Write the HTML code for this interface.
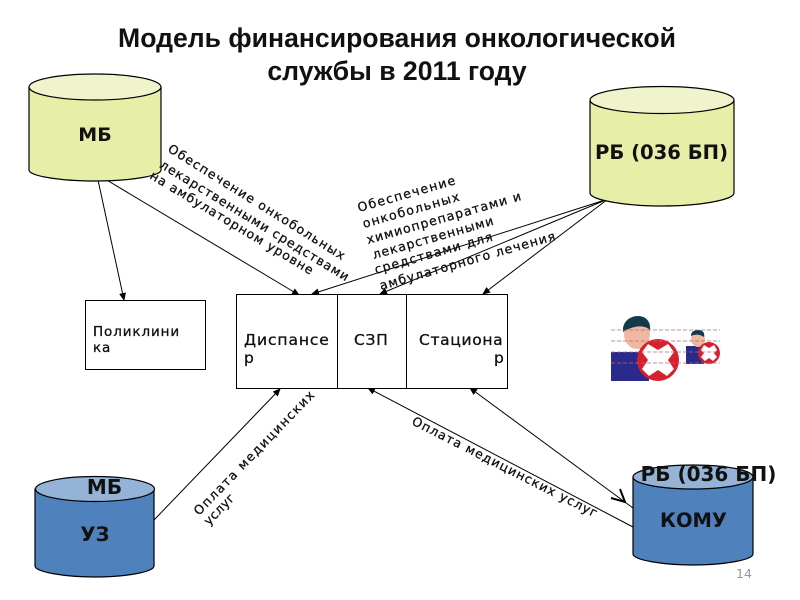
<!DOCTYPE html>
<html><head><meta charset="utf-8"><style>
html,body{margin:0;padding:0;background:#fff}
svg{display:block}
text{font-family:"DejaVu Sans",sans-serif;fill:#111}
.t{font-family:"Liberation Sans",sans-serif;font-weight:bold;font-size:26.6px;text-anchor:middle;fill:#111}
.b{font-weight:bold}
.r text{font-size:12.5px;stroke:#111;stroke-width:.3px}
.m{stroke:#111;stroke-width:.3px}
.l{stroke:#000;stroke-width:1;fill:none}
.c{stroke:#000;stroke-width:1.2}
</style></head><body>
<svg width="800" height="600" viewBox="0 0 800 600" xmlns="http://www.w3.org/2000/svg">
<defs>
<marker id="a" markerWidth="8" markerHeight="8" refX="7" refY="4" orient="auto" markerUnits="userSpaceOnUse"><path d="M0,0.5 L8,4 L0,7.5z" fill="#000"/></marker>
</defs>
<text class="t" x="397" y="47">Модель финансирования онкологической</text>
<text class="t" x="397" y="80">службы в 2011 году</text>

<!-- connectors -->
<g class="l">
<line x1="98" y1="180" x2="124" y2="300" marker-end="url(#a)"/>
<line x1="105" y1="179" x2="299" y2="295" marker-end="url(#a)"/>
<line x1="608" y1="199" x2="312" y2="294" marker-end="url(#a)"/>
<line x1="608" y1="199" x2="380" y2="294" marker-end="url(#a)"/>
<line x1="608" y1="199" x2="483" y2="294" marker-end="url(#a)"/>
<line x1="154" y1="520" x2="280" y2="389" marker-end="url(#a)"/>
<line x1="633" y1="527" x2="368" y2="388" marker-end="url(#a)"/>
<line x1="633" y1="508" x2="470" y2="388" marker-end="url(#a)"/>
</g>
<path d="M620,489 L625,502 L611,498" fill="none" stroke="#000" stroke-width="2"/>

<!-- МБ cylinder -->
<g class="c">
<path d="M29,87 V170 C29,176 60,181 95,181 C130,181 161,176 161,170 V87z" fill="#e6eea8"/>
<ellipse cx="95" cy="87" rx="66" ry="13" fill="#f0f4cc"/>
</g>
<text class="b" x="95" y="141" font-size="19" text-anchor="middle">МБ</text>

<!-- РБ cylinder -->
<g class="c">
<path d="M590,101 V193 C590,200 625,206 662,206 C699,206 734,200 734,193 V101z" fill="#e6eea8"/>
<ellipse cx="662" cy="100" rx="72" ry="13.500" fill="#f0f4cc"/>
</g>
<text class="b" x="661.500" y="159" font-size="19.600" text-anchor="middle">РБ (036 БП)</text>

<!-- Поликлиника -->
<rect x="85.500" y="300.500" width="120" height="69" fill="#fff" stroke="#000"/>
<text class="m" x="93" y="336" font-size="13.500" letter-spacing="0.900">Поликлини</text>
<text class="m" x="93" y="352" font-size="13.500" letter-spacing="0.900">ка</text>

<!-- Центральный блок -->
<rect x="236.500" y="294.500" width="271" height="94" fill="#fff" stroke="#000"/>
<line x1="337.500" y1="294" x2="337.500" y2="389" stroke="#000"/>
<line x1="406.500" y1="294" x2="406.500" y2="389" stroke="#000"/>
<text class="m" x="244" y="345" font-size="15.500" letter-spacing="0.900">Диспансе</text>
<text class="m" x="244" y="363" font-size="15.500">р</text>
<text class="m" x="354" y="345" font-size="15.500" letter-spacing="0.700">СЗП</text>
<text class="m" x="419" y="345" font-size="15.500" letter-spacing="0.650">Стациона</text>
<text class="m" x="494" y="363" font-size="15.500">р</text>

<!-- иконки -->
<g>
<rect x="611" y="352" width="38" height="29" fill="#2a2a8c"/>
<ellipse cx="637" cy="334" rx="13" ry="15" fill="#f0b8a0"/>
<path d="M623,332 C622,320 632,316 638,316 C647,316 651,323 650,330 C644,324 632,326 623,332z" fill="#123a4a"/>
<circle cx="658" cy="360" r="21" fill="#d81f2c"/>
<path d="M648,344 L658,350 L668,344 L674,352 L668,360 L674,369 L667,376 L658,370 L649,376 L642,369 L648,360 L642,352z" fill="#fff"/>
<rect x="686" y="346" width="18" height="18" fill="#2a2a8c"/>
<ellipse cx="698" cy="339" rx="7" ry="8" fill="#f0b8a0"/>
<path d="M691,336 C691,331 695,330 698,330 C703,330 705,333 704,337 C700,334 695,334 691,336z" fill="#123a4a"/>
<circle cx="709" cy="353" r="11" fill="#d81f2c"/>
<path d="M704,345 L709,348 L714,345 L717,350 L714,353 L717,357 L713,361 L709,358 L705,361 L701,357 L704,353 L701,350z" fill="#fff"/>
<g stroke="#b06a80" stroke-width="0.800" stroke-dasharray="4 2">
<line x1="611" y1="330" x2="720" y2="330"/>
<line x1="611" y1="341" x2="720" y2="341"/>
<line x1="611" y1="352" x2="720" y2="352"/>
<line x1="611" y1="363" x2="720" y2="363"/>
</g>
</g>

<!-- УЗ cylinder -->
<g class="c">
<path d="M35,489 V566 C35,572 65,577 95,577 C125,577 154,572 154,566 V489z" fill="#4f81bd"/>
<ellipse cx="95" cy="489" rx="59.500" ry="12.500" fill="#95b3d7"/>
</g>
<text class="b" x="104.500" y="494" font-size="20" text-anchor="middle">МБ</text>
<text class="b" x="95" y="541" font-size="19.500" text-anchor="middle">УЗ</text>

<!-- КОМУ cylinder -->
<g class="c">
<path d="M633,477 V554 C633,560 663,565 693,565 C723,565 753,560 753,554 V477z" fill="#4f81bd"/>
<ellipse cx="693" cy="477" rx="60" ry="12" fill="#95b3d7"/>
</g>
<text class="b" x="708.500" y="481" font-size="20" text-anchor="middle">РБ (036 БП)</text>
<text class="b" x="693.500" y="527" font-size="19.500" text-anchor="middle">КОМУ</text>
<text x="736" y="578" font-size="12.500" style="fill:#999">14</text>

<!-- подписи -->
<g class="r">
<text transform="translate(167,151) rotate(32)" textLength="206">Обеспечение онкобольных</text>
<text transform="translate(159,167) rotate(31.500)" textLength="219">лекарственными средствами</text>
<text transform="translate(149,178) rotate(31)" textLength="188">на амбулаторном уровне</text>
<text transform="translate(359,212) rotate(-16)" textLength="101">Обеспечение</text>
<text transform="translate(364,228) rotate(-16)" textLength="100">онкобольных</text>
<text transform="translate(368,244) rotate(-16)" textLength="160">химиопрепаратами и</text>
<text transform="translate(374,259) rotate(-16)" textLength="125">лекарственными</text>
<text transform="translate(376,274) rotate(-16)" textLength="122">средствами для</text>
<text transform="translate(381,290) rotate(-16)" textLength="182">амбулаторного лечения</text>
<text transform="translate(199,516) rotate(-46)" textLength="167">Оплата медицинских</text>
<text transform="translate(209,526) rotate(-46)" textLength="38">услуг</text>
<text transform="translate(411,424) rotate(27)" textLength="206">Оплата медицинских услуг</text>
</g>
</svg>
</body></html>
